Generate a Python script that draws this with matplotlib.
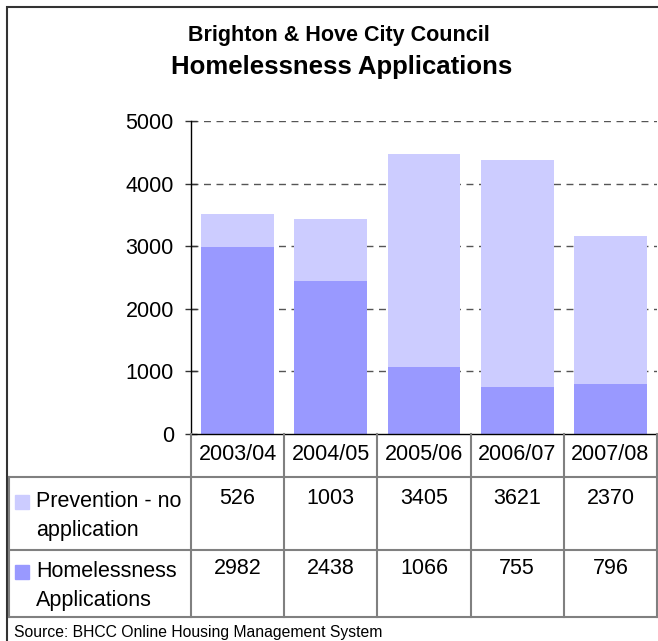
import matplotlib
matplotlib.use("Agg")
import matplotlib.pyplot as plt
from matplotlib.patches import Rectangle
from matplotlib.lines import Line2D

plt.rcParams['font.family'] = ['Liberation Sans', 'DejaVu Sans']

years = ["2003/04", "2004/05", "2005/06", "2006/07", "2007/08"]
homeless = [2982, 2438, 1066, 755, 796]
prevention = [526, 1003, 3405, 3621, 2370]
series_names = ["Prevention - no\napplication", "Homelessness\nApplications"]
yticks = [0, 1000, 2000, 3000, 4000, 5000]

c_prev = "#CCCCFF"
c_home = "#9999FF"
line_c = "#808080"
FS = 15.5

W, H = 658, 641
fig = plt.figure(figsize=(W / 100, H / 100), dpi=100)

def fx(px):
    return px / W

def fy(py):
    return 1 - py / H

ax_l, ax_r, ax_t, ax_b = 191, 657, 121, 434
ax = fig.add_axes([fx(ax_l), fy(ax_b), fx(ax_r) - fx(ax_l), fy(ax_t) - fy(ax_b)])
x = list(range(len(years)))
ax.bar(x, homeless, width=0.78, color=c_home, zorder=2)
ax.bar(x, prevention, width=0.78, bottom=homeless, color=c_prev, zorder=2)
ax.set_xlim(-0.5, len(years) - 0.5)
ax.set_ylim(0, 5000)
ax.set_yticks(yticks)
ax.set_yticklabels([str(v) for v in yticks], fontsize=FS)
ax.set_xticks([])
for t in yticks[1:]:
    ax.axhline(t, color="#555555", lw=1, ls=(0, (5, 4)), zorder=1)
for s in ["top", "right"]:
    ax.spines[s].set_visible(False)
ax.spines["left"].set_color("#000000")
ax.spines["bottom"].set_color("#000000")
ax.spines["left"].set_linewidth(1)
ax.spines["bottom"].set_linewidth(1)
ax.tick_params(axis="y", direction="inout", length=8.6, width=1, color="#333333", pad=8)

# Title
fig.text(fx(339), fy(35), "Brighton & Hove City Council", ha="center", va="center",
         fontsize=15.5, fontweight="bold")
fig.text(fx(342), fy(67), "Homelessness Applications", ha="center", va="center",
         fontsize=18.5, fontweight="bold")

# Data table (drawn with figure coordinates)
col_w = (ax_r - ax_l) / len(years)
row_y = [434, 477, 550, 617]
tl = []
for i in range(len(years) + 1):
    xx = ax_l + i * col_w
    tl.append(Line2D([fx(xx), fx(xx)], [fy(row_y[0]), fy(row_y[-1])]))
tl.append(Line2D([fx(9), fx(9)], [fy(row_y[1]), fy(row_y[-1])]))
for yy in row_y[1:]:
    tl.append(Line2D([fx(9), fx(ax_r)], [fy(yy), fy(yy)]))
for l in tl:
    l.set_color(line_c)
    l.set_linewidth(1.5)
    l.set_transform(fig.transFigure)
    fig.add_artist(l)

for i, yr in enumerate(years):
    cx = ax_l + (i + 0.5) * col_w
    fig.text(fx(cx), fy(455), yr, ha="center", va="center", fontsize=FS)
    fig.text(fx(cx), fy(498), str(prevention[i]), ha="center", va="center", fontsize=FS)
    fig.text(fx(cx), fy(569), str(homeless[i]), ha="center", va="center", fontsize=FS)

for name, col, ytop in [(series_names[0], c_prev, 495), (series_names[1], c_home, 565)]:
    fig.add_artist(Rectangle((fx(15), fy(ytop + 14)), fx(14), fy(ytop) - fy(ytop + 14),
                             transform=fig.transFigure, color=col))
    fig.text(fx(36), fy(ytop - 4), name, ha="left", va="top", fontsize=FS, linespacing=1.5)

fig.text(fx(14), fy(632), "Source: BHCC Online Housing Management System", ha="left",
         va="center", fontsize=11.3)

# Outer frame
fig.add_artist(Rectangle((fx(7), fy(700)), fx(700), fy(7) - fy(700), transform=fig.transFigure,
                         fill=False, edgecolor="#333333", lw=1.5))

fig.savefig("out.png", dpi=100)
